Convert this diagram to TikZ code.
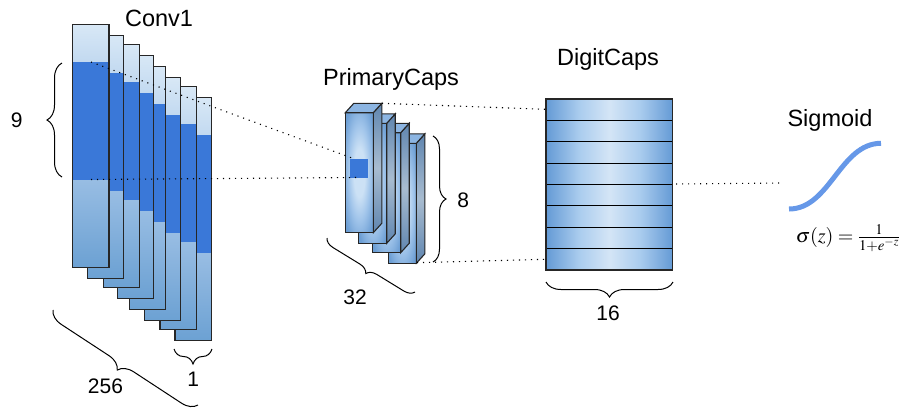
\documentclass[tikz,border=0pt]{standalone}
\usepackage{mathptmx}
\usepackage{fontspec}
\newfontfamily\labfont{Liberation Sans}
\usetikzlibrary{decorations.pathreplacing}

\definecolor{bandblue}{RGB}{58,120,216}
\definecolor{palehi}{RGB}{216,232,246}
\definecolor{palelo}{RGB}{194,217,240}
\definecolor{lowhi}{RGB}{152,189,227}
\definecolor{lowlo}{RGB}{108,161,211}
\definecolor{faceout}{RGB}{108,158,212}
\definecolor{facemid}{RGB}{160,196,234}
\definecolor{facein}{RGB}{204,225,245}
\definecolor{sidelight}{RGB}{168,188,208}
\definecolor{sidedark}{RGB}{96,134,176}
\definecolor{topface}{RGB}{140,181,226}
\definecolor{rowedge}{RGB}{100,154,213}
\definecolor{rowhalf}{RGB}{170,204,238}
\definecolor{rowmid}{RGB}{212,229,246}
\definecolor{sigblue}{RGB}{102,152,232}

% broad light centre for the capsule rows and faces
\pgfdeclarehorizontalshading{rowshade}{100bp}{color(0bp)=(rowedge); color(25bp)=(rowedge);
  color(38bp)=(rowhalf); color(50bp)=(rowmid); color(62bp)=(rowhalf);
  color(75bp)=(rowedge); color(100bp)=(rowedge)}
\pgfdeclareradialshading{faceshade}{\pgfpoint{0bp}{0bp}}{color(0bp)=(facein);
  color(10bp)=(facein); color(20bp)=(facemid); color(32bp)=(faceout); color(50bp)=(faceout)}

\tikzset{
  outline/.style={draw=black!85, line width=1.1pt},
  title/.style={font=\labfont\fontsize{23.5}{23.5}\selectfont, inner sep=0pt},
  num/.style={font=\labfont\fontsize{21}{21}\selectfont, inner sep=0pt},
  dotline/.style={line width=1.1pt, dash pattern=on 1.1pt off 4.9pt},
  bracket/.style={decorate, line width=1pt,
    decoration={brace, amplitude=#1}},
  bracket/.default=15pt
}

% one Conv1 feature map: left x, top y
\newcommand\convpanel[2]{%
  \fill[top color=palehi, bottom color=palelo] (#1,#2) rectangle ++(36.3,37.7);
  \fill[bandblue] (#1,#2+37.7) rectangle ++(36.3,118);
  \fill[top color=lowhi, bottom color=lowlo] (#1,#2+155.7) rectangle ++(36.3,87.3);
  \draw[outline] (#1,#2) rectangle ++(36.3,243);
}

% one PrimaryCaps block: front-face left x, bottom y
\newcommand\capblock[2]{%
  \shade[shading=faceshade] (#1,#2) rectangle ++(28,-120);
  \draw[outline] (#1,#2) rectangle ++(28,-120);
  \shade[top color=sidedark, bottom color=sidedark, middle color=sidelight, draw=black!85, line width=1.1pt]
    (#1+28,#2) -- ++(8.5,-9.4) -- ++(0,-120) -- ++(-8.5,9.4) -- cycle;
  \fill[topface, draw=black!85, line width=1.1pt]
    (#1,#2-120) -- ++(8.5,-9.4) -- ++(28,0) -- ++(-8.5,9.4) -- cycle;
}

\begin{document}
\begin{tikzpicture}[x=1pt, y=-1pt]
\useasboundingbox (0,0) rectangle (901,408);

% ---- Conv1: eight stacked feature maps, back to front
\convpanel{175}{97.7}
\convpanel{160}{86.7}
\convpanel{144.3}{77.7}
\convpanel{129.3}{66.7}
\convpanel{117.3}{55.3}
\convpanel{103.3}{44.3}
\convpanel{87.3}{35.7}
\convpanel{72.7}{24.3}

% ---- PrimaryCaps: four capsule blocks, back to front
\capblock{388.3}{263.3}
\capblock{372.7}{252.7}
\capblock{358.7}{243.3}
\capblock{345.3}{232.7}
\fill[bandblue] (350,159) rectangle (368,177.7);

% ---- DigitCaps: 8 rows of 16D capsules (fills first, then the rules)
\foreach \i in {0,...,7}{
  \shade[shading=rowshade]
    (546,99+\i*21.375) rectangle (672.7,99+\i*21.375+21.375);
}
\foreach \i in {1,...,7}{
  \draw[black, line width=1.2pt] (546,99+\i*21.375) -- (672.7,99+\i*21.375);
}
\draw[outline] (546,99) rectangle (672.7,270);

% ---- Sigmoid curve
\draw[sigblue, line width=5pt] (789,209) .. controls (830,209) and (840,143.3) .. (881,143.3);

% ---- anchor points for the projection lines
\coordinate (rfTop) at (91,62);
\coordinate (rfBot) at (91,179.5);
\coordinate (sqTop) at (352,158);
\coordinate (sqBot) at (358,177.5);
\coordinate (pcTop) at (382,103.3);
\coordinate (pcBot) at (417,262.7);
\coordinate (dcTop) at (545,109.3);
\coordinate (dcBot) at (545,259.3);
\coordinate (dcOut) at (676,184);
\coordinate (sgIn) at (782,183);

\draw[dotline] (rfTop) -- (sqTop);
\draw[dotline] (rfBot) -- (sqBot);
\draw[dotline] (pcTop) -- (dcTop);
\draw[dotline] (pcBot) -- (dcBot);
\draw[dotline] (dcOut) -- (sgIn);

% ---- dimension braces
\coordinate (b9a) at (62,177);   \coordinate (b9b) at (62,63);
\coordinate (b1a) at (212,349);  \coordinate (b1b) at (174,349);
\coordinate (bKa) at (198,405);  \coordinate (bKb) at (53,310);
\coordinate (b8a) at (433,136);  \coordinate (b8b) at (433,262);
\coordinate (b32a) at (415,292); \coordinate (b32b) at (327,238);
\coordinate (b16a) at (673,282); \coordinate (b16b) at (546,282);

\draw[bracket] (b9a) -- (b9b);
\draw[bracket] (b1a) -- (b1b);
\draw[bracket] (bKa) -- (bKb);
\draw[bracket=13pt] (b8a) -- (b8b);
\draw[bracket=10pt] (b32a) -- (b32b);
\draw[bracket] (b16a) -- (b16b);

% ---- labels
\node[title, anchor=base] (tConv) at (159,26.5) {Conv1};
\node[title, anchor=base] (tPrim) at (391,85) {PrimaryCaps};
\node[title, anchor=base] (tDigit) at (608,65) {DigitCaps};
\node[title, anchor=base] (tSig) at (830,126) {Sigmoid};

\node[num] (n9) at (16.7,120.7) {9};
\node[num] (n1) at (193.3,379) {1};
\node[num] (n256) at (105.5,386.5) {256};
\node[num] (n8) at (463.3,200) {8};
\node[num] (n32) at (355,297.5) {32};
\node[num] (n16) at (608,313) {16};

\node[inner sep=0pt, font=\fontsize{20}{20}\selectfont] (formula) at (848,238)
  {$\sigma(z) = \frac{1}{1+e^{-z}}$};
\end{tikzpicture}
\end{document}
